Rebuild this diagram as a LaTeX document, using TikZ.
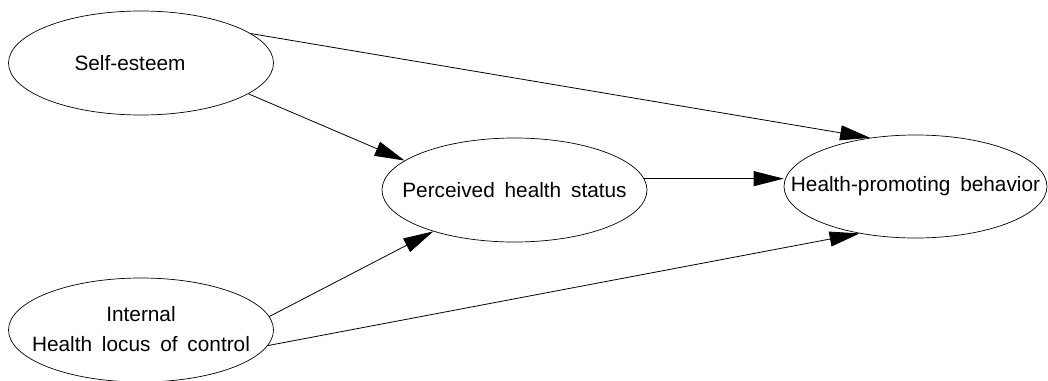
\documentclass[tikz,border=0pt]{standalone}
\usepackage{fontspec}
\setmainfont{Liberation Sans}[WordSpace=1.7]
\usetikzlibrary{shapes.geometric,arrows.meta}
\begin{document}
\begin{tikzpicture}[x=1pt,y=-1pt,
  var/.style={ellipse, draw, line width=0.7pt, minimum width=265pt, minimum height=104pt,
              inner sep=0pt, font=\fontsize{20.8}{30}\selectfont},
  conn/.style={line width=0.8pt, -{Triangle[length=30pt,width=15pt]}}]
\useasboundingbox (0,0) rectangle (1048,380);
\node[var] (se) at (141,63) {\makebox[0pt]{\kern-11pt Self-esteem\kern11pt}};
\node[var] (ih) at (141,330) {\makebox[0pt]{\begin{tabular}{c}Internal\\Health locus of control\end{tabular}}};
\node[var] (ph) at (514.5,190) {\makebox[0pt]{Perceived health status}};
\node[var, minimum width=263pt, minimum height=103pt] (hp) at (915.5,186.5) {\makebox[0pt]{Health-promoting behavior}};
\draw[conn] (se.15) -- (hp.133);
\draw[conn] (se.-16) -- (ph.165.5);
\draw[conn] (ph.5) -- (ph.5 -| hp.west);
\draw[conn] (ih.6.4) -- (ph.207);
\draw[conn] (ih.-7.8) -- (hp.220.8);
\end{tikzpicture}
\end{document}
